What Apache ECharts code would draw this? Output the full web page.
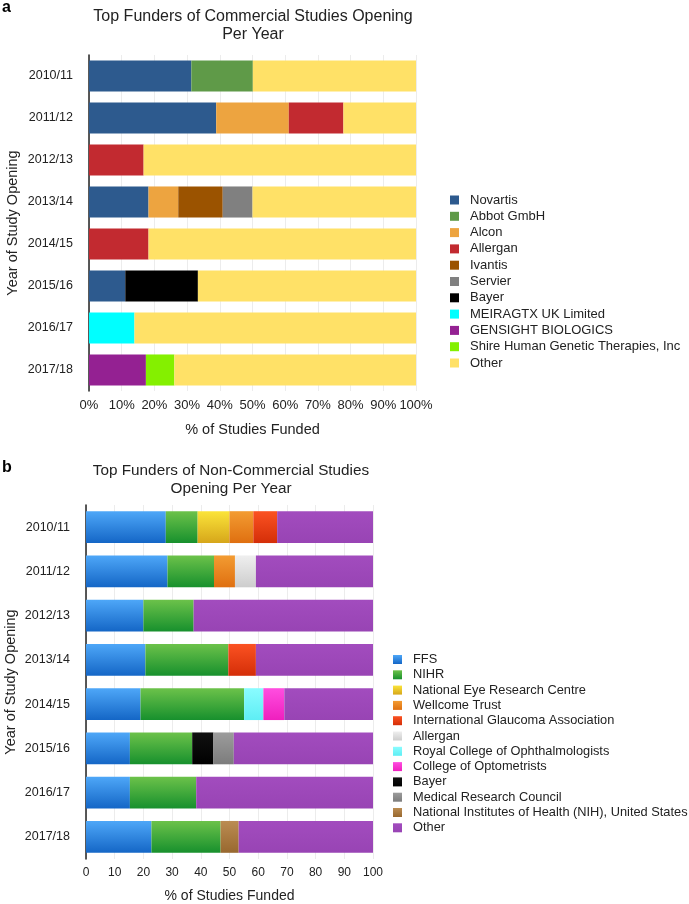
<!DOCTYPE html>
<html>
<head>
<meta charset="utf-8">
<script src="https://cdn.jsdelivr.net/npm/echarts@6/dist/echarts.min.js"></script>
<style>
  html, body { margin: 0; padding: 0; background: #fff; }
  #chart { width: 689px; height: 904px; }
</style>
</head>
<body>
<div id="chart"></div>
<script>
// years shown on both panels, top to bottom
var years = ['2010/11', '2011/12', '2012/13', '2013/14', '2014/15', '2015/16', '2016/17', '2017/18'];
var pctTicksA = ['0%', '10%', '20%', '30%', '40%', '50%', '60%', '70%', '80%', '90%', '100%'];

// panel a - commercial funders (% of studies)
var novartis  = [31.3, 38.9, 0, 18.2, 0, 11.1, 0, 0];
var abbot     = [18.8, 0, 0, 0, 0, 0, 0, 0];
var alcon     = [0, 22.2, 0, 9.1, 0, 0, 0, 0];
var allerganA = [0, 16.7, 16.7, 0, 18.2, 0, 0, 0];
var ivantis   = [0, 0, 0, 13.6, 0, 0, 0, 0];
var servier   = [0, 0, 0, 9.1, 0, 0, 0, 0];
var bayerA    = [0, 0, 0, 0, 0, 22.2, 0, 0];
var meiragtx  = [0, 0, 0, 0, 0, 0, 13.9, 0];
var gensight  = [0, 0, 0, 0, 0, 0, 0, 17.4];
var shire     = [0, 0, 0, 0, 0, 0, 0, 8.7];
var otherA    = [50, 22.2, 83.3, 50, 81.8, 66.7, 86.1, 73.9];

// panel b - non-commercial funders (% of studies)
var ffs       = [27.8, 28.4, 20, 20.7, 19, 15.3, 15.3, 22.8];
var nihr      = [11.1, 16.2, 17.5, 28.9, 36.1, 21.7, 23.1, 24.1];
var nerc      = [11.1, 0, 0, 0, 0, 0, 0, 0];
var wellcome  = [8.3, 7.3, 0, 0, 0, 0, 0, 0];
var iga       = [8.3, 0, 0, 9.6, 0, 0, 0, 0];
var allerganB = [0, 7.3, 0, 0, 0, 0, 0, 0];
var rco       = [0, 0, 0, 0, 6.7, 0, 0, 0];
var coo       = [0, 0, 0, 0, 7.3, 0, 0, 0];
var bayerB    = [0, 0, 0, 0, 0, 7.4, 0, 0];
var mrc       = [0, 0, 0, 0, 0, 7.1, 0, 0];
var nih       = [0, 0, 0, 0, 0, 0, 0, 6.3];
var otherB    = [33.4, 40.8, 62.5, 40.8, 30.9, 48.5, 61.6, 46.8];

var seriesA = [
    ['Novartis', novartis, '#2d5a8e'],
    ['Abbot GmbH', abbot, '#5f9a48'],
    ['Alcon', alcon, '#eda440'],
    ['Allergan', allerganA, '#c22a30'],
    ['Ivantis', ivantis, '#9b5300'],
    ['Servier', servier, '#808080'],
    ['Bayer', bayerA, '#000000'],
    ['MEIRAGTX UK Limited', meiragtx, '#00ffff'],
    ['GENSIGHT BIOLOGICS', gensight, '#942192'],
    ['Shire Human Genetic Therapies, Inc', shire, '#84f000'],
    ['Other', otherA, '#ffe167']
];

// [name, data, top colour, bottom colour]
var seriesB = [
    ['FFS', ffs, '#4ea7f8', '#1466c6'],
    ['NIHR', nihr, '#6cc24a', '#17902d'],
    ['National Eye Research Centre', nerc, '#fbe43a', '#d6a61a'],
    ['Wellcome Trust', wellcome, '#f39c32', '#df6f10'],
    ['International Glaucoma Association', iga, '#fb5222', '#d42e08'],
    ['Allergan', allerganB, '#efefef', '#cdcdcd'],
    ['Royal College of Ophthalmologists', rco, '#8afcff', '#5eeef4'],
    ['College of Optometrists', coo, '#ff4ee0', '#ef1fbe'],
    ['Bayer', bayerB, '#111111', '#000000'],
    ['Medical Research Council', mrc, '#9c9c9c', '#7c7c7c'],
    ['National Institutes of Health (NIH), United States', nih, '#bb8c52', '#98682f'],
    ['Other', otherB, '#a24cbe', '#9844b4']
];

var FONT = 'Liberation Sans, Arial, sans-serif';

function grad(top, bottom) {
    return new echarts.graphic.LinearGradient(0, 0, 0, 1, [
        { offset: 0, color: top },
        { offset: 1, color: bottom }
    ]);
}

function makeAxes(gridIndex, labels, cfg) {
    var xAxis = {
        type: 'value',
        gridIndex: gridIndex,
        min: 0,
        max: 100,
        interval: 10,
        name: '% of Studies Funded',
        nameLocation: 'middle',
        nameGap: cfg.nameGap,
        nameTextStyle: { fontFamily: FONT, fontSize: cfg.nameSize, color: '#222' },
        axisLine: { show: false },
        axisTick: { show: false },
        splitLine: { show: true, lineStyle: { color: '#ececec', width: 1 } },
        axisLabel: {
            fontFamily: FONT, fontSize: cfg.tickSize, color: '#222', margin: cfg.tickMargin,
            formatter: function (v) { return labels ? labels[v / 10] : String(v); }
        }
    };
    var yAxis = {
        type: 'category',
        gridIndex: gridIndex,
        data: years,
        inverse: true,
        name: 'Year of Study Opening',
        nameLocation: 'middle',
        nameGap: cfg.yNameGap,
        nameRotate: 90,
        nameTextStyle: { fontFamily: FONT, fontSize: 14.5, color: '#222' },
        axisLine: { show: true, lineStyle: { color: '#222', width: 1.5 } },
        axisTick: { show: false },
        axisLabel: { fontFamily: FONT, fontSize: 12.5, color: '#222', margin: 16 }
    };
    return [xAxis, yAxis];
}

var chart = echarts.init(document.getElementById('chart'), null, { renderer: 'canvas' });

var axesA = makeAxes(0, pctTicksA, { nameGap: 31, nameSize: 14.5, tickSize: 13, tickMargin: 8, yNameGap: 69 });
var axesB = makeAxes(1, null, { nameGap: 30, nameSize: 14, tickSize: 12, tickMargin: 8, yNameGap: 68 });

var series = [];
seriesA.forEach(function (s) {
    series.push({
        type: 'bar',
        name: s[0],
        id: 'a_' + s[0],
        xAxisIndex: 0,
        yAxisIndex: 0,
        stack: 'a',
        barCategoryGap: '26%',
        data: s[1],
        itemStyle: { color: s[2] },
        emphasis: { disabled: true }
    });
});
seriesB.forEach(function (s) {
    series.push({
        type: 'bar',
        name: s[0],
        id: 'b_' + s[0],
        xAxisIndex: 1,
        yAxisIndex: 1,
        stack: 'b',
        barCategoryGap: '28%',
        data: s[1],
        itemStyle: { color: grad(s[2], s[3]) },
        emphasis: { disabled: true }
    });
});

var option = {
    animation: false,
    backgroundColor: '#fff',
    title: [
        {
            text: 'Top Funders of Commercial Studies Opening\nPer Year',
            left: 248, top: 3, textAlign: 'center',
            textStyle: { fontFamily: FONT, fontSize: 16, fontWeight: 'normal', color: '#222', lineHeight: 18 }
        },
        {
            text: 'Top Funders of Non-Commercial Studies\nOpening Per Year',
            left: 226, top: 457, textAlign: 'center',
            textStyle: { fontFamily: FONT, fontSize: 15.3, fontWeight: 'normal', color: '#222', lineHeight: 18 }
        }
    ],
    graphic: [
        { type: 'text', left: 2, top: 0, style: { text: 'a', font: 'bold 16px ' + FONT, fill: '#000' } },
        { type: 'text', left: 2, top: 460, style: { text: 'b', font: 'bold 16px ' + FONT, fill: '#000' } }
    ],
    legend: [
        {
            orient: 'vertical',
            left: 450,
            top: 193,
            padding: 0,
            itemWidth: 9,
            itemHeight: 9,
            itemGap: 2.3,
            icon: 'rect',
            selectedMode: false,
            textStyle: { fontFamily: FONT, fontSize: 13, color: '#222', lineHeight: 14, padding: [0, 0, 0, 6] },
            data: seriesA.map(function (s) { return { name: s[0], itemStyle: { color: s[2] } }; })
        },
        {
            orient: 'vertical',
            left: 393,
            top: 653,
            padding: 0,
            itemWidth: 9,
            itemHeight: 9,
            itemGap: 2.3,
            icon: 'rect',
            selectedMode: false,
            textStyle: { fontFamily: FONT, fontSize: 12.8, color: '#222', lineHeight: 13, padding: [0, 0, 0, 6] },
            data: seriesB.map(function (s) { return { name: s[0], itemStyle: { color: grad(s[2], s[3]) } }; })
        }
    ],
    grid: [
        { left: 89, width: 327, top: 55, height: 336 },
        { left: 86, width: 287, top: 505, height: 356 }
    ],
    xAxis: [axesA[0], axesB[0]],
    yAxis: [axesA[1], axesB[1]],
    series: series
};

chart.setOption(option);
</script>
</body>
</html>
